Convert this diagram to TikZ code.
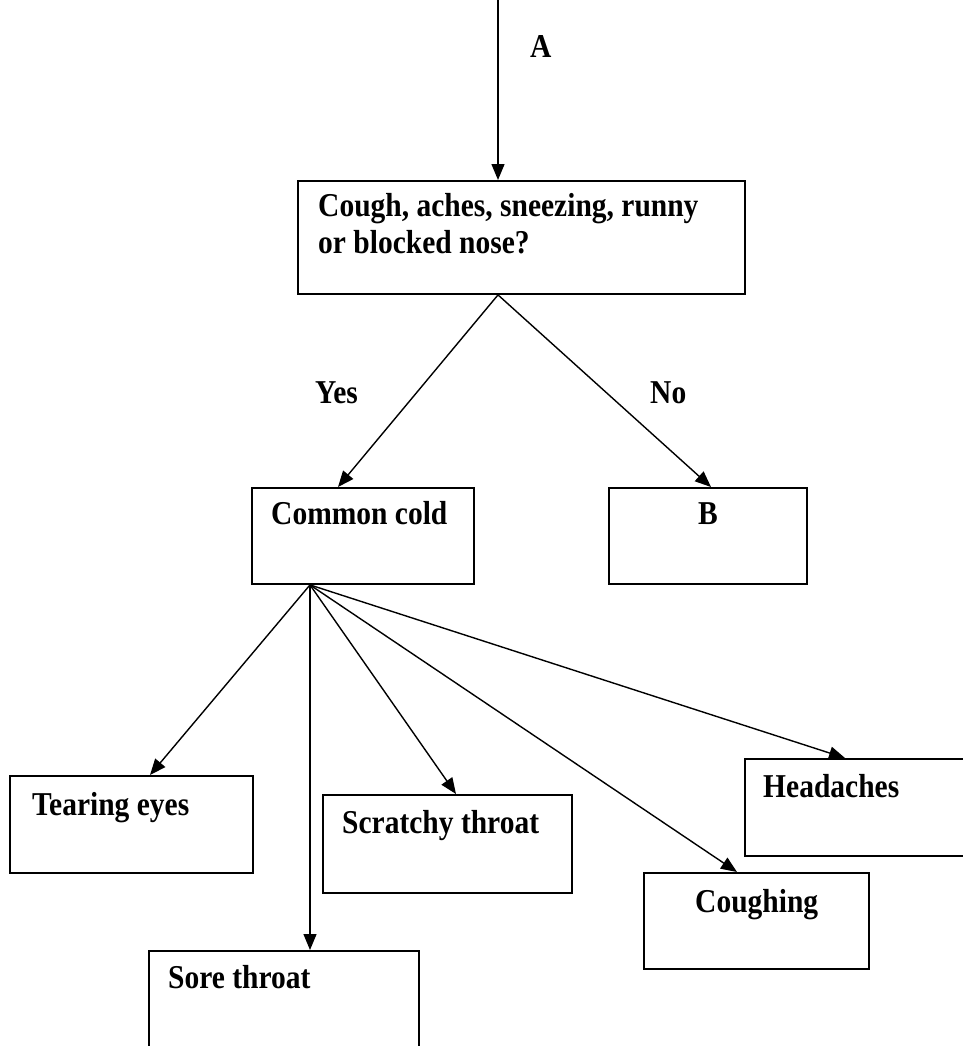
\documentclass[tikz,border=0pt]{standalone}
\usepackage{fontspec}
\setmainfont{Liberation Serif}
\usetikzlibrary{arrows.meta,calc}

% bold labels, set a little taller than the plain face
\newcommand\tallt[1]{\scalebox{1}[1.13]{#1}}

\tikzset{
  box/.style={draw, line width=1.9pt, rectangle, anchor=north west, inner sep=0pt},
  lbl/.style={anchor=base west, inner sep=0pt, font=\fontsize{29.5}{38}\selectfont\bfseries},
  arr/.style={line width=1.4pt, -{Triangle[length=16pt,width=13pt]}}
}

\begin{document}
\begin{tikzpicture}[x=1pt,y=-1pt]
  \useasboundingbox (0,0) rectangle (962,1046);

  % question box and its answers
  \node[box, minimum width=447pt, minimum height=113pt] (q) at (297,180) {};
  \node[lbl] (q1) at (318,216) {\tallt{Cough, aches, sneezing, runny}};
  \node[lbl] (q2) at (318,253) {\tallt{or blocked nose?}};

  \node[box, minimum width=222pt, minimum height=96pt] (cc) at (251,487) {};
  \node[lbl] (cct) at (271,524) {\tallt{Common cold}};
  \node[box, minimum width=198pt, minimum height=96pt] (b) at (608,487) {};
  \node[lbl] (bt) at (698,524) {\tallt{B}};

  % symptoms
  \node[box, minimum width=243pt, minimum height=97pt] (tear) at (9,775) {};
  \node[lbl] (teart) at (32,815) {\tallt{Tearing eyes}};
  \node[box, minimum width=270pt, minimum height=96pt] (sore) at (148,950) {};
  \node[lbl] (soret) at (168,988) {\tallt{Sore throat}};
  \node[box, minimum width=249pt, minimum height=98pt] (scr) at (322,794) {};
  \node[lbl] (scrt) at (342,833) {\tallt{Scratchy throat}};
  \node[box, minimum width=225pt, minimum height=96pt] (cough) at (643,872) {};
  \node[lbl] (cought) at (695,912) {\tallt{Coughing}};
  \node[box, minimum width=240pt, minimum height=97pt] (head) at (744,758) {};
  \node[lbl] (headt) at (763,797) {\tallt{Headaches}};

  % entry arrow
  \coordinate (top) at (498,0);
  \node[lbl] (a) at (530,58) {\tallt{A}};
  \draw[arr] (top) -- ($(q.north west)+(201,0)$);

  % decision branches
  \coordinate (qo) at ($(q.south west)+(201,0)$);
  \draw[arr] (qo) -- ($(cc.north west)+(87,0)$);
  \draw[arr] (qo) -- ($(b.north west)+(103,0)$);
  \node[lbl] (yes) at (315,403) {\tallt{Yes}};
  \node[lbl] (no) at (650,403) {\tallt{No}};

  % fan of symptoms from the common cold box
  \coordinate (co) at ($(cc.south west)+(59,0)$);
  \draw[arr] (co) -- ($(tear.north west)+(141,0)$);
  \draw[arr] (co) -- ($(sore.north west)+(162,0)$);
  \draw[arr] (co) -- ($(scr.north west)+(134,0)$);
  \draw[arr] (co) -- ($(cough.north west)+(94,0)$);
  \draw[arr] (co) -- ($(head.north west)+(101,0)$);
\end{tikzpicture}
\end{document}
